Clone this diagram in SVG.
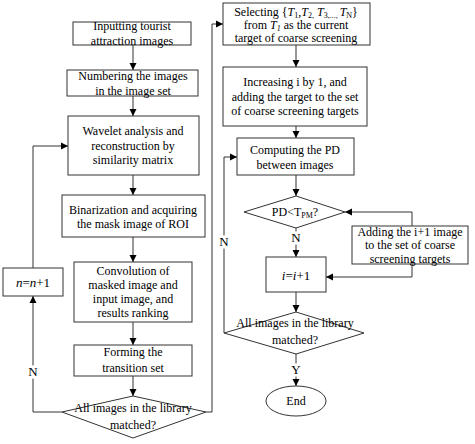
<svg xmlns="http://www.w3.org/2000/svg" width="475" height="444" viewBox="0 0 475 444">
<style>
.b{fill:#fff;stroke:#333;stroke-width:1}
.t{font-family:"Liberation Serif","Times New Roman",serif;font-size:12px;fill:#000;text-anchor:middle}
.c{fill:none;stroke:#333;stroke-width:1}
.lbl{font-family:"Liberation Serif","Times New Roman",serif;font-size:13px;fill:#000;text-anchor:middle;paint-order:stroke;stroke:#fff;stroke-width:5}
.s{font-size:8px}
</style>
<defs>
<marker id="a" markerWidth="8" markerHeight="8" refX="7" refY="4" orient="auto" markerUnits="userSpaceOnUse">
<path d="M0,0.5 L7,4 L0,7.5 Z" fill="#000"/>
</marker>
</defs>
<rect width="475" height="444" fill="#fff"/>
<g id="connectors">
<path class="c" d="M133,45 V70" marker-end="url(#a)"/>
<path class="c" d="M133,96 V116" marker-end="url(#a)"/>
<path class="c" d="M133,175 V195" marker-end="url(#a)"/>
<path class="c" d="M133,237 V262" marker-end="url(#a)"/>
<path class="c" d="M133,322 V345" marker-end="url(#a)"/>
<path class="c" d="M133,376 V396" marker-end="url(#a)"/>
<path class="c" d="M62,412 H33 V296" marker-end="url(#a)"/>
<path class="c" d="M33,268 V146 H68" marker-end="url(#a)"/>
<path class="c" d="M206,412 H212 V24 H223" marker-end="url(#a)"/>
<path class="c" d="M296,45 V67" marker-end="url(#a)"/>
<path class="c" d="M296,126 V138" marker-end="url(#a)"/>
<path class="c" d="M296,175 V196" marker-end="url(#a)"/>
<path class="c" d="M296,228 V257" marker-end="url(#a)"/>
<path class="c" d="M412,226 V212 H345" marker-end="url(#a)"/>
<path class="c" d="M412,264 V277 H326" marker-end="url(#a)"/>
<path class="c" d="M296,292 V312" marker-end="url(#a)"/>
<path class="c" d="M224,333 V157 H237" marker-end="url(#a)"/>
<path class="c" d="M296,354 V386" marker-end="url(#a)"/>
<text class="lbl" x="33" y="376">N</text>
<text class="lbl" x="224" y="246">N</text>
<text class="lbl" x="296" y="242">N</text>
<text class="lbl" x="296" y="374">Y</text>
</g>
<g id="n1"><rect class="b" x="73" y="22" width="118" height="23"/>
<text class="t" x="132" y="30">Inputting tourist</text><text class="t" x="132" y="45">attraction images</text></g>
<g id="n2"><rect class="b" x="67" y="70" width="131" height="26"/>
<text class="t" x="133" y="80">Numbering the images</text><text class="t" x="133" y="95">in the image set</text></g>
<g id="n3"><rect class="b" x="68" y="116" width="131" height="59"/>
<text class="t" x="133" y="135">Wavelet analysis and</text><text class="t" x="133" y="150">reconstruction by</text><text class="t" x="133" y="164">similarity matrix</text></g>
<g id="n4"><rect class="b" x="62" y="195" width="143" height="42"/>
<text class="t" x="133" y="214">Binarization and acquiring</text><text class="t" x="133" y="228">the mask image of ROI</text></g>
<g id="n5"><rect class="b" x="74" y="262" width="118" height="60"/>
<text class="t" x="133" y="275">Convolution of</text><text class="t" x="133" y="289">masked image and</text><text class="t" x="133" y="303">input image, and</text><text class="t" x="133" y="317">results ranking</text></g>
<g id="n6"><rect class="b" x="3" y="268" width="60" height="28"/>
<text class="t" x="33" y="287" style="font-size:13px"><tspan font-style="italic">n</tspan>=<tspan font-style="italic">n</tspan>+1</text></g>
<g id="n7"><rect class="b" x="74" y="345" width="118" height="31"/>
<text class="t" x="133" y="356">Forming the</text><text class="t" x="133" y="372">transition set</text></g>
<g id="n8"><polygon class="b" points="62,412 133,396 206,412 133,438"/>
<text class="t" x="133" y="412">All images in the library</text><text class="t" x="133" y="429">matched?</text></g>
<g id="n9"><rect class="b" x="223" y="3" width="147" height="42"/>
<text class="t" x="296" y="16">Selecting {<tspan font-style="italic">T</tspan><tspan class="s" dy="2">1</tspan><tspan dy="-2">,</tspan><tspan font-style="italic">T</tspan><tspan class="s" dy="2">2,</tspan><tspan dy="-2"> </tspan><tspan font-style="italic">T</tspan><tspan class="s" dy="2">3,..., </tspan><tspan dy="-2" font-style="italic">T</tspan><tspan class="s" dy="2">N</tspan><tspan dy="-2">}</tspan></text>
<text class="t" x="296" y="29">from <tspan font-style="italic">T</tspan><tspan class="s" dy="2" font-style="italic">1</tspan><tspan dy="-2"> as the current</tspan></text>
<text class="t" x="296" y="42">target of coarse screening</text></g>
<g id="n10"><rect class="b" x="223" y="67" width="144" height="59"/>
<text class="t" x="295" y="86">Increasing i by 1, and</text><text class="t" x="295" y="101">adding the target to the set</text><text class="t" x="295" y="115">of coarse screening targets</text></g>
<g id="n11"><rect class="b" x="237" y="138" width="117" height="37"/>
<text class="t" x="295" y="154">Computing the PD</text><text class="t" x="295" y="169">between images</text></g>
<g id="n12"><polygon class="b" points="244,212 296,196 345,212 296,228"/>
<text class="t" x="295" y="216">PD&lt;T<tspan class="s" dy="2">PM</tspan><tspan dy="-2">?</tspan></text></g>
<g id="n13"><rect class="b" x="352" y="226" width="116" height="38"/>
<text class="t" x="410" y="236">Adding the i+1 image</text><text class="t" x="410" y="249">to the set of coarse</text><text class="t" x="410" y="263">screening targets</text></g>
<g id="n14"><rect class="b" x="266" y="257" width="60" height="35"/>
<text class="t" x="296" y="280" style="font-size:13px"><tspan font-style="italic">i</tspan>=<tspan font-style="italic">i</tspan>+1</text></g>
<g id="n15"><polygon class="b" points="224,333 296,312 364,333 296,354"/>
<text class="t" x="295" y="327">All images in the library</text><text class="t" x="295" y="344">matched?</text></g>
<g id="n16"><ellipse class="b" cx="296" cy="401" rx="30" ry="15"/>
<text class="t" x="296" y="405">End</text></g>
</svg>
